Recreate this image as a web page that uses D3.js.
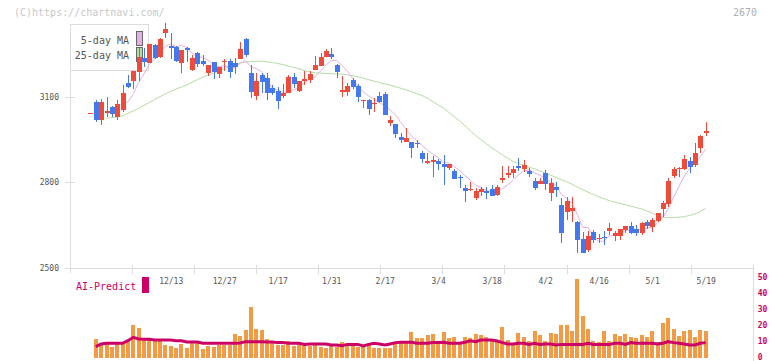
<!DOCTYPE html>
<html><head><meta charset="utf-8">
<script src="https://cdn.jsdelivr.net/npm/d3@7"></script>
<style>
html,body{margin:0;padding:0;background:#fff;}
svg{display:block;}
text{font-family:"DejaVu Sans Mono",monospace;}
</style></head><body>
<svg id="c" width="772" height="361"></svg>
<script>
// ---- data (index 0 is a flat pre-window tick) ----
const openP  = [3044,3083,3019,3044,3065,3031,3054,3150,3157,3189,3237,3221,3283,3241,3326,3281,3277,3221,3271,3195,3256,3227,3186,3223,3181,3222,3227,3221,3234,3304,3186,3105,3177,3166,3131,3121,3105,3115,3170,3122,3157,3160,3195,3210,3242,3251,3213,3119,3119,3160,3139,3086,3089,3075,3105,3109,3010,3005,2960,2943,2942,2939,2904,2869,2872,2875,2864,2849,2841,2820,2781,2773,2746,2767,2768,2775,2755,2808,2825,2834,2858,2847,2840,2804,2793,2834,2763,2784,2720,2694,2700,2660,2599,2562,2624,2600,2606,2629,2611,2612,2632,2646,2635,2620,2659,2641,2665,2706,2723,2823,2848,2846,2875,2861,2922,2974];
const highP  = [3044,3089,3093,3100,3068,3089,3142,3179,3193,3271,3272,3288,3286,3307,3359,3325,3281,3266,3276,3248,3257,3248,3214,3224,3205,3233,3233,3236,3295,3308,3213,3183,3186,3186,3142,3136,3145,3177,3183,3157,3191,3191,3245,3256,3269,3273,3216,3174,3150,3168,3146,3090,3093,3097,3116,3116,3033,3006,2972,2990,2943,2949,2910,2904,2893,2881,2896,2865,2848,2825,2790,2802,2779,2782,2782,2790,2790,2857,2857,2857,2884,2878,2849,2814,2814,2843,2814,2802,2746,2749,2749,2664,2626,2628,2632,2618,2628,2655,2630,2636,2647,2660,2650,2659,2667,2673,2692,2735,2814,2855,2855,2896,2890,2937,2966,3011];
const lowP   = [3044,3013,3002,3030,3031,3019,3048,3132,3128,3156,3207,3219,3233,3237,3309,3234,3224,3186,3224,3193,3207,3210,3174,3163,3168,3193,3166,3181,3233,3242,3097,3089,3115,3089,3107,3058,3098,3114,3133,3117,3142,3148,3194,3209,3241,3234,3168,3101,3103,3128,3083,3060,3037,3048,3078,3036,2998,2957,2937,2942,2886,2919,2869,2863,2819,2843,2790,2843,2811,2779,2732,2769,2738,2752,2741,2751,2752,2797,2814,2814,2841,2836,2820,2773,2793,2773,2735,2749,2587,2667,2661,2552,2550,2556,2587,2587,2579,2614,2594,2597,2622,2618,2611,2614,2635,2626,2661,2679,2714,2816,2820,2843,2834,2855,2904,2963];
const closeP = [3044,3019,3083,3051,3040,3075,3115,3135,3191,3240,3223,3285,3236,3304,3338,3274,3228,3265,3265,3238,3215,3216,3213,3189,3204,3228,3189,3207,3269,3248,3119,3156,3154,3113,3115,3087,3115,3170,3145,3156,3162,3180,3213,3242,3262,3242,3187,3125,3139,3136,3099,3089,3058,3080,3081,3037,3019,2970,2949,2955,2922,2935,2882,2875,2878,2864,2855,2864,2812,2816,2770,2777,2770,2775,2763,2752,2784,2816,2834,2847,2849,2861,2828,2781,2804,2793,2798,2773,2622,2735,2708,2597,2550,2611,2597,2605,2603,2640,2622,2635,2646,2622,2622,2655,2646,2667,2691,2726,2804,2847,2851,2882,2855,2904,2963,2981];
const ma5    = [null,null,null,null,null,null,3073,3083,3111,3151,3181,3215,3235,3258,3277,3287,3276,3282,3274,3254,3242,3240,3229,3214,3207,3210,3205,3203,3219,3228,3206,3200,3189,3158,3131,3125,3116,3120,3126,3135,3150,3163,3171,3191,3212,3228,3229,3212,3191,3166,3137,3118,3104,3092,3081,3069,3055,3037,3011,2986,2963,2946,2929,2914,2898,2887,2871,2867,2855,2842,2823,2808,2789,2782,2771,2767,2769,2778,2790,2807,2826,2841,2844,2833,2825,2813,2801,2790,2758,2744,2727,2687,2642,2640,2613,2592,2593,2611,2613,2621,2629,2633,2629,2636,2638,2642,2656,2677,2707,2747,2784,2822,2848,2868,2891,2917];
const ma25   = [null,null,null,3025,3027,3030,3034,3042,3051,3060,3070,3081,3091,3101,3111,3120,3128,3135,3142,3152,3161,3170,3177,3184,3191,3199,3206,3213,3220,3223,3225,3226,3226,3224,3221,3218,3214,3209,3204,3199,3193,3188,3185,3184,3183,3182,3181,3181,3178,3175,3171,3166,3161,3156,3151,3146,3142,3136,3131,3125,3119,3112,3105,3096,3084,3072,3061,3046,3031,3016,2999,2981,2964,2950,2936,2922,2909,2896,2885,2873,2866,2860,2853,2847,2840,2832,2825,2817,2809,2802,2793,2783,2774,2765,2757,2749,2742,2735,2730,2726,2721,2716,2711,2706,2699,2691,2682,2677,2675,2676,2677,2679,2683,2688,2697,2708];
const volume = [null,12.1,8.3,8.7,7.3,9.4,10,11.4,20.8,18.9,11.9,12.7,11,11.4,8.3,7.7,6.6,8.9,6.6,10.4,10,6,7.9,7.3,8.3,8.3,8.3,15.2,13.9,17.7,32.3,18.3,17.7,12.1,11,8.3,8.3,11,7.7,9.1,8.3,7.7,8.3,7.3,6.6,7.9,7.3,10.4,7.9,8.9,7.3,8.3,9.4,6.2,6.6,6.2,6.5,9.1,9.4,9.4,16.4,12.7,12.7,14.6,15.2,9.4,16.4,12.7,13.3,8.9,13.3,12.7,15.2,14.6,13.3,11.4,11.4,19.6,11.4,8.9,15.8,13.3,10.8,17.1,14.6,10.8,15.8,15.2,20.8,20.8,17.1,49.6,26.4,18.3,11,10.2,17.1,10.8,15.2,13.9,15.2,13.3,12.7,14.6,13.3,17.1,10.2,22.1,25.2,18.3,13.9,17.1,17.7,13.3,17.7,17.1];
const aiPredict = [null,7.3,9.0,9.4,9.4,9.4,9.4,11,13.1,12.1,11.9,11.9,11.4,11.4,11.4,11.4,11,11,10.2,10.2,10.2,9.4,9.4,9.4,9.4,9.4,9.4,9.4,9.6,10.4,10.4,10.4,10.4,10.2,10.2,9.8,9.8,9.4,9.4,9.4,8.7,8.9,8.9,8.9,8.9,8.3,8.3,7.9,8.7,8.7,8.7,7.7,8.7,9.4,8.9,8.3,8.9,9.8,10,10,10,9.4,9.4,9.4,9.8,9.8,10,9.4,9.4,9.4,10,11,10.4,11.4,11.4,11.4,10.8,9.8,8.9,8.9,9.4,9.4,8.7,9.4,8.7,8.9,8.9,8.3,8.7,8.7,8.7,8.7,8.7,9.4,8.7,8.7,8.7,8.7,9.4,9.4,8.7,9.8,9.4,9.4,9.4,9.4,8.9,9.4,10.4,9.8,9.4,8.9,8.3,8.3,9.4,9.8];
const dateLabels = ["12/13","12/27","1/17","1/31","2/17","3/4","3/18","4/2","4/16","5/1","5/19"];
const dateLabelIdx = [15,25,35,45,55,65,75,85,95,105,115];
const priceTicks = [2500,2800,3100];
const volTicks = [0,10,20,30,40,50];
const legendNames = ["5-day MA","25-day MA"];

// ---- drawing ----
const C = {up:"#ee4b3b", down:"#4479ee", ma5:"#e4b0e6", ma25:"#b6dca6", vol:"#f29a44", ai:"#cc0066",
           grid:"#dddddd", text:"#555555"};
const svg = d3.select("#c");
const N = closeP.length;
const x = d3.scaleLinear().domain([0, N-1]).range([90.45, 705.7]);
const y = d3.scaleLinear().domain([2500, 3100]).range([267.5, 97]);
const yv = d3.scaleLinear().domain([0, 50]).range([358.3, 278.3]);
const plotL = 70, plotR = 752.7, plotT = 24, plotB = 267.5;

// watermark / code
svg.append("text").attr("x",14).attr("y",16).attr("font-size",10).attr("fill","#c8c8c8")
  .text("(C)https://chartnavi.com/");
svg.append("text").attr("x",757).attr("y",16).attr("font-size",10).attr("fill","#b0b0b0")
  .attr("text-anchor","end").text("2670");

// axes frame
const g = svg.append("g").attr("shape-rendering","crispEdges");
g.append("line").attr("x1",plotL+0.5).attr("x2",plotL+0.5).attr("y1",plotT).attr("y2",plotB+5).attr("stroke",C.grid);
g.append("line").attr("x1",plotL).attr("x2",plotR).attr("y1",Math.round(plotB)+0.5).attr("y2",Math.round(plotB)+0.5).attr("stroke",C.grid);
g.append("line").attr("x1",Math.round(plotR)+0.5).attr("x2",Math.round(plotR)+0.5).attr("y1",plotB-3).attr("y2",361).attr("stroke",C.grid);
const gridX = d3.range(1,12).map(k => plotL + k*(plotR-plotL)/11);
g.selectAll(".gx").data(gridX).join("line")
  .attr("x1",d=>Math.round(d)+0.5).attr("x2",d=>Math.round(d)+0.5)
  .attr("y1",plotB-3).attr("y2",plotB+6).attr("stroke",C.grid);
g.selectAll(".gy").data(priceTicks).join("line")
  .attr("x1",plotL-5).attr("x2",plotL+5)
  .attr("y1",d=>Math.round(y(d))+0.5).attr("y2",d=>Math.round(y(d))+0.5).attr("stroke",C.grid);

// price axis labels
const ay = svg.append("g").attr("transform",`translate(${plotL},0)`)
  .call(d3.axisLeft(y).tickValues(priceTicks).tickSize(0).tickPadding(11).tickFormat(d3.format("d")));
ay.select(".domain").remove();
ay.selectAll("text").attr("font-family","DejaVu Sans Mono, monospace").attr("font-size",8).attr("fill",C.text);

// date labels
const xa = svg.append("g").attr("transform",`translate(0,${plotB})`)
  .call(d3.axisBottom(x).tickValues(dateLabelIdx).tickSize(0).tickPadding(11)
    .tickFormat((d,i)=>dateLabels[i]));
xa.select(".domain").remove();
xa.selectAll("text").attr("font-family","DejaVu Sans Mono, monospace").attr("font-size",8).attr("fill",C.text);

// volume axis labels
const av = svg.append("g").attr("transform",`translate(${plotR},-1.5)`)
  .call(d3.axisRight(yv).tickValues(volTicks).tickSize(0).tickPadding(5));
av.select(".domain").remove();
av.selectAll("text").attr("font-family","DejaVu Sans Mono, monospace").attr("font-size",8)
  .attr("font-weight","bold").attr("fill",C.ai);

// legend
const lg = svg.append("g");
lg.append("rect").attr("x",70.5).attr("y",24.5).attr("width",78).attr("height",46)
  .attr("fill","#fff").attr("stroke","#dcdcdc").attr("shape-rendering","crispEdges");
const legCols = [C.ma5, C.ma25];
legendNames.forEach((nm,i)=>{
  lg.append("text").attr("x",129).attr("y",43.5+i*15).attr("text-anchor","end")
    .attr("font-size",10).attr("fill",C.text).text(nm);
  lg.append("rect").attr("x",136.5).attr("y",31.5+i*16).attr("width",6).attr("height",14)
    .attr("fill",legCols[i]).attr("stroke","#666").attr("shape-rendering","crispEdges");
});

// AI predict label
svg.append("text").attr("x",76).attr("y",289.5).attr("font-size",10).attr("fill",C.ai).text("AI-Predict");
svg.append("rect").attr("x",142).attr("y",277).attr("width",7).attr("height",16).attr("fill",C.ai);

// volume bars
svg.append("g").attr("shape-rendering","crispEdges").selectAll("rect").data(volume.map((v,i)=>({v,i})).filter(d=>d.v!=null))
  .join("rect").attr("x",d=>x(d.i)-2).attr("width",4)
  .attr("y",d=>yv(d.v)).attr("height",d=>yv(0)-yv(d.v)).attr("fill",C.vol);

// AI line
const aiLine = d3.line().defined(d=>d!=null).x((d,i)=>x(i)).y(d=>yv(d));
svg.append("path").attr("d",aiLine(aiPredict)).attr("fill","none").attr("stroke",C.ai)
  .attr("stroke-width",3).attr("stroke-linejoin","miter");

// MA lines
const maLine = d3.line().defined(d=>d!=null).x((d,i)=>x(i)).y(d=>y(d));
svg.append("path").attr("d",maLine(ma25)).attr("fill","none").attr("stroke",C.ma25).attr("stroke-width",1);
svg.append("path").attr("d",maLine(ma5)).attr("fill","none").attr("stroke",C.ma5).attr("stroke-width",1);

// candles
const candles = closeP.map((c,i)=>({i,o:openP[i],h:highP[i],l:lowP[i],c}));
const cg = svg.append("g").attr("shape-rendering","crispEdges");
cg.selectAll("line").data(candles).join("line")
  .attr("x1",d=>Math.round(x(d.i))+0.5).attr("x2",d=>Math.round(x(d.i))+0.5)
  .attr("y1",d=>y(d.h)).attr("y2",d=>y(d.l))
  .attr("stroke",d=>d.c>=d.o?C.up:C.down);
cg.selectAll("rect").data(candles).join("rect")
  .attr("x",d=>Math.round(x(d.i))-2).attr("width",5)
  .attr("y",d=>y(Math.max(d.o,d.c)))
  .attr("height",d=>Math.max(1,Math.abs(y(d.o)-y(d.c))))
  .attr("fill",d=>d.c>=d.o?C.up:C.down);
</script>
</body></html>
